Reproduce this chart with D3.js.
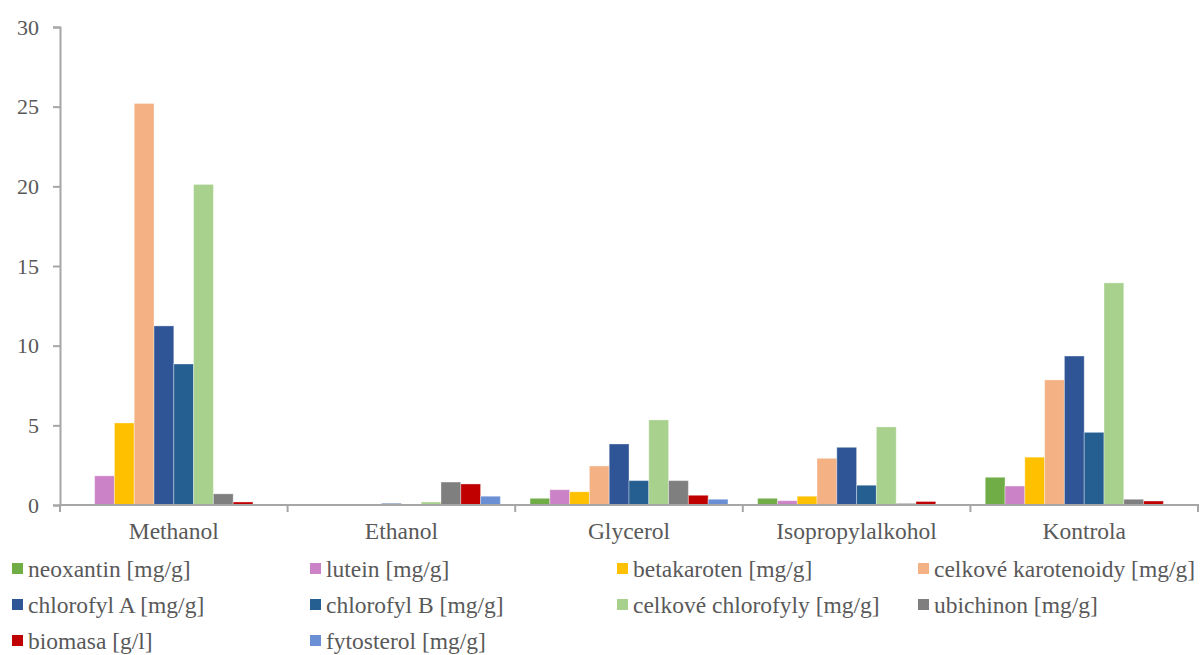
<!DOCTYPE html>
<html><head><meta charset="utf-8">
<script src="https://cdn.jsdelivr.net/npm/d3@7"></script>
<style>body{margin:0;background:#fff}svg{display:block}</style>
</head><body><svg id="c" width="1204" height="655"></svg>
<script>
const categories = ["Methanol","Ethanol","Glycerol","Isopropylalkohol","Kontrola"];
const seriesNames = ["neoxantin [mg/g]","lutein [mg/g]","betakaroten [mg/g]","celkové karotenoidy [mg/g]","chlorofyl A [mg/g]","chlorofyl B [mg/g]","celkové chlorofyly [mg/g]","ubichinon [mg/g]","biomasa [g/l]","fytosterol [mg/g]"];
const seriesColors = ["#70AD47","#CB82C6","#FFC000","#F4B183","#2F5597","#255E91","#A9D18E","#7F7F7F","#C00000","#6A8FD4"];
const neoxantin = [0, 0, 0.42, 0.42, 1.74];
const lutein = [1.83, 0, 0.96, 0.27, 1.19];
const betakaroten = [5.15, 0, 0.83, 0.55, 3.0];
const karotenoidy = [25.2, 0.04, 2.45, 2.93, 7.85];
const chlorofylA = [11.24, 0.1, 3.83, 3.62, 9.35];
const chlorofylB = [8.85, 0.05, 1.53, 1.24, 4.56];
const chlorofyly = [20.12, 0.19, 5.34, 4.9, 13.94];
const ubichinon = [0.7, 1.44, 1.53, 0.1, 0.36];
const biomasa = [0.19, 1.32, 0.61, 0.22, 0.25];
const fytosterol = [0.05, 0.55, 0.36, 0.05, 0.05];
const yTicks = [0,5,10,15,20,25,30];

(function(){
const FONT = '"Liberation Serif","Times New Roman",Tinos,"DejaVu Serif",serif';
const seriesValues = [neoxantin,lutein,betakaroten,karotenoidy,chlorofylA,chlorofylB,chlorofyly,ubichinon,biomasa,fytosterol];
const svg = d3.select("#c");
const mLeft = 60, mRight = 1198, mTop = 27, mBottom = 505;
const y = d3.scaleLinear().domain([0,30]).range([mBottom, mTop]);
const x0 = d3.scaleBand().domain(categories).range([mLeft, mRight]).paddingInner(0).paddingOuter(0);
const bw = x0.bandwidth();
const gapFrac = 1.5/11.5;
const x1 = d3.scaleBand().domain(d3.range(seriesNames.length)).range([bw*gapFrac/2, bw - bw*gapFrac/2]).padding(0);

categories.forEach((c, ci) => {
  const g = svg.append("g").attr("transform", `translate(${x0(c)},0)`);
  seriesValues.forEach((vals, si) => {
    const v = vals[ci];
    g.append("rect")
      .attr("x", x1(si)).attr("width", x1.bandwidth())
      .attr("y", y(v)).attr("height", mBottom - y(v))
      .attr("fill", seriesColors[si])
      .attr("stroke", "#fff").attr("stroke-opacity", 0.35).attr("stroke-width", 1);
  });
});

const yAxis = d3.axisLeft(y).tickValues(yTicks).tickSize(7).tickPadding(14);
const ya = svg.append("g").attr("transform", `translate(${mLeft},0)`).call(yAxis);
ya.attr("font-family", FONT).attr("font-size", 22);
ya.select(".domain").attr("stroke", "#A6A6A6").attr("stroke-width", 2);
ya.selectAll(".tick line").attr("stroke", "#A6A6A6").attr("stroke-width", 2);
ya.selectAll(".tick text").attr("fill", "#595959");

const xa = svg.append("g").attr("transform", `translate(0,${mBottom})`);
xa.append("line").attr("x1", mLeft-1).attr("x2", mRight+1).attr("y1", 0).attr("y2", 0).attr("stroke", "#A6A6A6").attr("stroke-width", 2);
const bounds = categories.map(c => x0(c)).concat([mRight]);
xa.selectAll("line.tk").data(bounds).enter().append("line").attr("class","tk")
  .attr("x1", d=>d).attr("x2", d=>d).attr("y1", 0).attr("y2", 7).attr("stroke", "#A6A6A6").attr("stroke-width", 2);
xa.selectAll("text").data(categories).enter().append("text")
  .attr("x", d => x0(d) + bw/2).attr("y", 34).attr("text-anchor", "middle")
  .attr("font-family", FONT).attr("font-size", 23.5).attr("fill", "#595959").text(d => d);

const colX = [12, 310, 617, 918];
const rowY = [569, 605, 641];
seriesNames.forEach((n, i) => {
  const col = i % 4, row = Math.floor(i / 4);
  const g = svg.append("g").attr("transform", `translate(${colX[col]},${rowY[row]})`);
  g.append("rect").attr("x", 0).attr("y", -6).attr("width", 11).attr("height", 11).attr("fill", seriesColors[i]);
  g.append("text").attr("x", 16).attr("y", 8).attr("font-family", FONT).attr("font-size", 23.5).attr("fill", "#595959").text(n);
});
})();
</script></body></html>
